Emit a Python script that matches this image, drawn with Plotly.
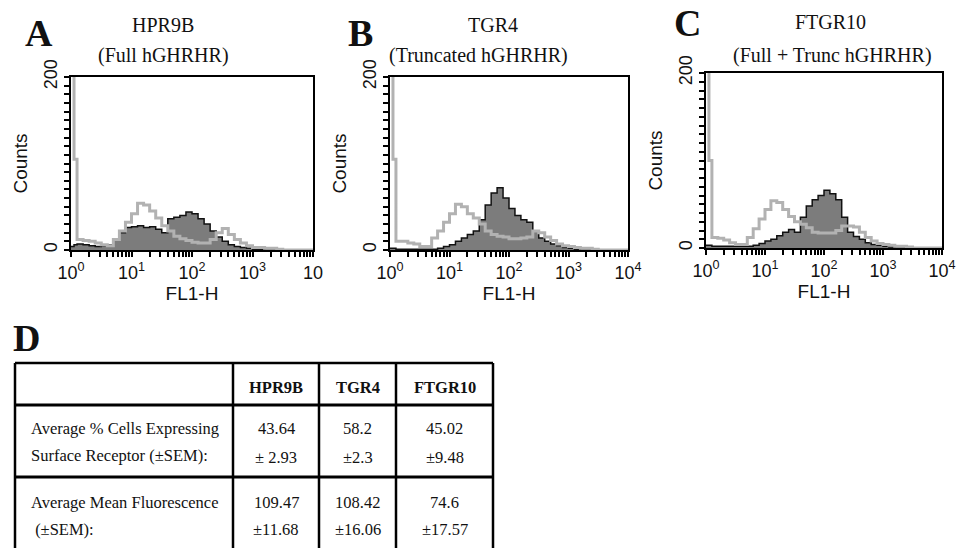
import plotly.graph_objects as go

W, H = 956, 548

# ---------------- data ----------------
# FL1-H channel positions (log10 units) shared by all histograms
fl1_log = [0.0, 0.05, 0.1, 0.2, 0.3, 0.4, 0.5, 0.6, 0.7, 0.8, 0.9,
           1.0, 1.1, 1.2, 1.3, 1.4, 1.5, 1.6, 1.7, 1.8, 1.9,
           2.0, 2.1, 2.2, 2.3, 2.4, 2.5, 2.6, 2.7, 2.8, 2.9,
           3.0, 3.1, 3.2, 3.3, 3.4, 3.5, 3.6, 3.7, 3.8, 3.9, 4.0]

# control (gray outline) and stained (dark filled) counts per panel
ctrl_A = [260, 105, 12, 11, 10, 8, 6, 5, 12, 22, 32, 42, 54, 52, 45, 37, 28, 22, 16, 13, 11,
          9, 8, 8, 12, 20, 25, 18, 12, 8, 5, 3, 3, 2, 2, 1, 0, 0, 0, 0, 0, 0]
stain_A = [4, 6, 7, 6, 5, 4, 5, 6, 12, 20, 26, 27, 28, 26, 27, 24, 20, 36, 38, 40, 44,
           42, 36, 30, 22, 15, 10, 6, 4, 3, 2, 1, 1, 0, 0, 0, 0, 0, 0, 0, 0, 0]
ctrl_B = [260, 105, 10, 10, 8, 7, 4, 4, 14, 22, 32, 42, 53, 50, 42, 37, 30, 22, 18, 16, 15,
          13, 13, 14, 15, 22, 20, 15, 11, 7, 5, 4, 3, 2, 2, 1, 0, 0, 0, 0, 0, 0]
stain_B = [2, 2, 1, 1, 1, 1, 1, 1, 1, 2, 4, 6, 10, 14, 18, 22, 35, 52, 66, 72, 60,
           48, 40, 35, 32, 22, 14, 10, 7, 5, 3, 2, 1, 0, 0, 0, 0, 0, 0, 0, 0, 0]
ctrl_C = [260, 100, 12, 11, 9, 6, 4, 4, 12, 22, 33, 44, 54, 52, 44, 36, 30, 27, 23, 18, 17,
          17, 17, 20, 25, 25, 24, 18, 12, 8, 5, 4, 3, 2, 2, 1, 0, 0, 0, 0, 0, 0]
stain_C = [3, 3, 2, 2, 2, 2, 2, 2, 2, 3, 5, 8, 10, 14, 18, 21, 18, 35, 48, 55, 60,
           66, 62, 55, 35, 18, 13, 10, 6, 4, 3, 2, 1, 0, 0, 0, 0, 0, 0, 0, 0, 0]

panel_letters = ["A", "B", "C"]
panel_names = ["HPR9B", "TGR4", "FTGR10"]
panel_subtitles = ["(Full hGHRHR)", "(Truncated hGHRHR)", "(Full + Trunc hGHRHR)"]
x_decades = [1, 10, 100, 1000, 10000]
x_decade_text_A = ["10<sup>0</sup>", "10<sup>1</sup>", "10<sup>2</sup>", "10<sup>3</sup>", "10"]
x_decade_text = ["10<sup>0</sup>", "10<sup>1</sup>", "10<sup>2</sup>", "10<sup>3</sup>", "10<sup>4</sup>"]
y_label_vals = [0, 200]
y_label_text = ["0", "200"]

# table D
table_cols = ["HPR9B", "TGR4", "FTGR10"]
row1_label = ["Average % Cells Expressing", "Surface Receptor (\u00b1SEM):"]
row2_label = ["Average Mean Fluorescence", " (\u00b1SEM):"]
pct_mean = ["43.64", "58.2", "45.02"]
pct_sem = ["\u00b1 2.93", "\u00b12.3", "\u00b19.48"]
fluo_mean = ["109.47", "108.42", "74.6"]
fluo_sem = ["\u00b111.68", "\u00b116.06", "\u00b117.57"]

# ---------------- layout helpers ----------------
def px(x):
    return x / W

def py(y):
    return 1 - y / H

SANS = "Liberation Sans, Arial, sans-serif"
SERIF = "Liberation Serif, Times New Roman, serif"
INK = "#111111"

fl1 = [10 ** v for v in fl1_log]

panels = [
    dict(ctrl=ctrl_A, stain=stain_A, xd=(71, 313), yd=(77, 250), tt=x_decade_text_A),
    dict(ctrl=ctrl_B, stain=stain_B, xd=(390, 628), yd=(77, 250), tt=x_decade_text),
    dict(ctrl=ctrl_C, stain=stain_C, xd=(706, 942), yd=(73, 248), tt=x_decade_text),
]

fig = go.Figure()
layout = dict(
    width=W, height=H, margin=dict(l=0, r=0, t=0, b=0),
    paper_bgcolor="white", plot_bgcolor="white", showlegend=False,
)

# tick marks: decades labelled, intermediate log ticks unlabelled
minor_x = [k * 10 ** d for d in range(4) for k in range(2, 10)]
minor_y = list(range(10, 200, 10))

for i, p in enumerate(panels):
    sx = "" if i == 0 else str(i + 1)
    fig.add_trace(go.Scatter(
        x=fl1, y=p["stain"], mode="lines", line=dict(color="#111111", width=1.5, shape="hv"),
        fill="tozeroy", fillcolor="#7c7c7c", xaxis="x" + sx, yaxis="y" + sx, hoverinfo="skip"))
    fig.add_trace(go.Scatter(
        x=fl1, y=p["ctrl"], mode="lines", line=dict(color="#b2b2b2", width=3, shape="hv"),
        xaxis="x" + sx, yaxis="y" + sx, hoverinfo="skip"))

    xt_vals = x_decades + minor_x
    xt_text = p["tt"] + [""] * len(minor_x)
    yt_vals = y_label_vals + minor_y
    yt_text = y_label_text + [""] * len(minor_y)

    layout["xaxis" + sx] = dict(
        type="log", range=[0, 4], domain=[px(p["xd"][0]), px(p["xd"][1])],
        anchor="y" + sx, showgrid=False, zeroline=False,
        showline=True, linecolor="black", linewidth=2, mirror=True,
        ticks="outside", ticklen=5, tickwidth=1.5, tickcolor="black",
        tickmode="array", tickvals=xt_vals, ticktext=xt_text,
        tickfont=dict(family=SANS, size=18, color=INK),
        title=dict(text="FL1-H", font=dict(family=SANS, size=19, color=INK), standoff=0),
        automargin=False, fixedrange=True,
    )
    layout["yaxis" + sx] = dict(
        range=[0, 200], domain=[py(p["yd"][1]), py(p["yd"][0])],
        anchor="x" + sx, showgrid=False, zeroline=False,
        showline=True, linecolor="black", linewidth=2, mirror=True,
        ticks="outside", ticklen=5, tickwidth=1.5, tickcolor="black",
        tickmode="array", tickvals=yt_vals, ticktext=yt_text, tickangle=-90,
        tickfont=dict(family=SANS, size=18, color=INK),
        title=dict(text="Counts", font=dict(family=SANS, size=19, color=INK), standoff=8),
        automargin=False, fixedrange=True,
    )

annotations = []
letter_pos = [(39, 33), (360, 33), (687, 23)]
name_pos = [(163, 25), (493, 25), (830, 22)]
sub_pos = [(163, 55), (478, 56), (832, 56)]
for i in range(3):
    annotations.append(dict(text="<b>%s</b>" % panel_letters[i], x=px(letter_pos[i][0]), y=py(letter_pos[i][1]),
                            xref="paper", yref="paper", showarrow=False, xanchor="center", yanchor="middle",
                            font=dict(family=SERIF, size=38, color=INK)))
    annotations.append(dict(text=panel_names[i], x=px(name_pos[i][0]), y=py(name_pos[i][1]),
                            xref="paper", yref="paper", showarrow=False, xanchor="center", yanchor="middle",
                            font=dict(family=SERIF, size=20, color=INK)))
    annotations.append(dict(text=panel_subtitles[i], x=px(sub_pos[i][0]), y=py(sub_pos[i][1]),
                            xref="paper", yref="paper", showarrow=False, xanchor="center", yanchor="middle",
                            font=dict(family=SERIF, size=20, color=INK)))

# ---- table D ----
annotations.append(dict(text="<b>D</b>", x=px(26), y=py(338), xref="paper", yref="paper", showarrow=False,
                        xanchor="center", yanchor="middle", font=dict(family=SERIF, size=38, color=INK)))

col_edges = [15, 233, 319, 396, 493]
row_lines = [363, 405, 477]
shapes = []
for yl in row_lines:
    shapes.append(dict(type="line", xref="paper", yref="paper", x0=px(15), x1=px(493), y0=py(yl), y1=py(yl),
                       line=dict(color="black", width=3 if yl != 363 else 2.5)))
for xc in col_edges:
    shapes.append(dict(type="line", xref="paper", yref="paper", x0=px(xc), x1=px(xc), y0=py(363), y1=py(560),
                       line=dict(color="black", width=2.5)))

col_centers = [(col_edges[j + 1] + col_edges[j + 2]) / 2 for j in range(3)]
cell_font = dict(family=SERIF, size=16.5, color=INK)
for j, name in enumerate(table_cols):
    annotations.append(dict(text="<b>%s</b>" % name, x=px(col_centers[j]), y=py(387), xref="paper", yref="paper",
                            showarrow=False, xanchor="center", yanchor="middle", font=cell_font))
    for val, yy in [(pct_mean[j], 428), (pct_sem[j], 457), (fluo_mean[j], 502), (fluo_sem[j], 529)]:
        annotations.append(dict(text=val, x=px(col_centers[j]), y=py(yy), xref="paper", yref="paper",
                                showarrow=False, xanchor="center", yanchor="middle", font=cell_font))
for txt, yy in [(row1_label[0], 428), (row1_label[1], 455), (row2_label[0], 502), (row2_label[1], 529)]:
    annotations.append(dict(text=txt, x=px(29), y=py(yy), xref="paper", yref="paper", showarrow=False,
                            xanchor="left", yanchor="middle", font=cell_font))

layout["annotations"] = annotations
layout["shapes"] = shapes
fig.update_layout(**layout)
fig.write_html("out.html")
